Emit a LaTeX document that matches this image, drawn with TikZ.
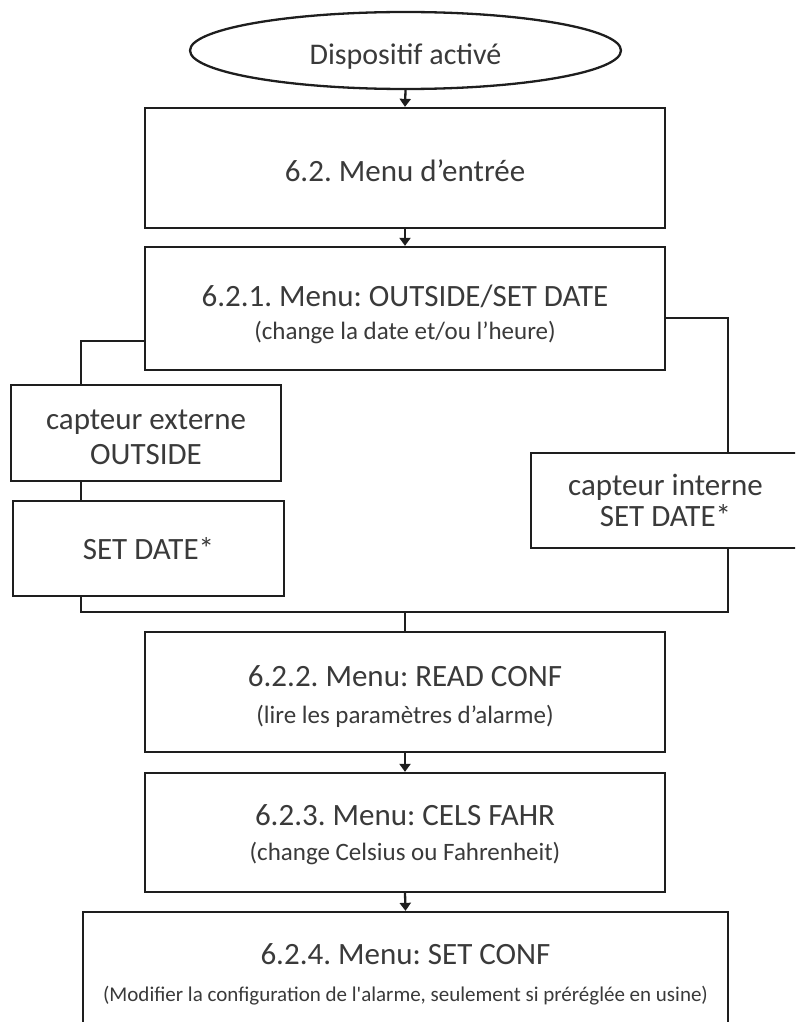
\documentclass[tikz,border=0pt]{standalone}
\usepackage{fontspec}
\setmainfont{Carlito}
\usetikzlibrary{shapes.geometric,arrows.meta,calc}

% font sizes used in the flow chart
\newcommand\ttlfont{\fontsize{31}{37}\selectfont\frenchspacing}
\newcommand\subfont{\fontsize{25}{30}\selectfont}
\newcommand\notefont{\fontsize{21}{26}\selectfont}
\newcommand\ovalfont{\fontsize{30}{36}\selectfont}
% invisible strut that pushes a node's text a little lower
\newcommand\lift[1]{\rule{0pt}{#1}}

\definecolor{linec}{HTML}{1E1E1E}
\definecolor{txt}{HTML}{3A3A3A}

\begin{document}
\begin{tikzpicture}[x=1pt,y=-1pt,
  box/.style={draw=linec, line width=2.3pt, fill=white, text=txt,
    align=center, inner sep=0pt, font=\ttlfont},
  oval/.style={ellipse, draw=linec, line width=2.3pt, text=txt,
    inner sep=0pt, font=\ovalfont},
  link/.style={draw=linec, line width=2.3pt},
  arr/.style={link, -{Triangle[width=11pt,length=8pt]}}]

\clip (0,0) rectangle (795,1022);

% start of the flow
\node[oval, minimum width=431pt, minimum height=77pt] (start) at (405.5,50.5) {\lift{33pt}Dispositif activé};

% main menu boxes
\node[box, minimum width=520pt, minimum height=120pt] (menu) at (405,168) {\lift{28pt}6.2. Menu d’entrée};
\node[box, minimum width=520pt, minimum height=123pt] (outside) at (405,308.5)
  {\lift{33pt}6.2.1. Menu: OUTSIDE/SET DATE\\[-4pt]{\subfont (change la date et/ou l’heure)}};

% sensor branches
\node[box, minimum width=270pt, minimum height=96pt] (ext) at (146,433) {\lift{28pt}capteur externe\\[-2pt]OUTSIDE};
\node[box, minimum width=271pt, minimum height=95pt] (setd) at (148.5,548.5) {SET DATE*};
\node[box, minimum width=269pt, minimum height=95pt] (int) at (665.5,500.5) {capteur interne\\[-6pt]SET DATE*};

\node[box, minimum width=520pt, minimum height=120pt] (read) at (405,692)
  {\lift{30pt}6.2.2. Menu: READ CONF\\[0pt]{\subfont (lire les paramètres d’alarme)}};
\node[box, minimum width=520pt, minimum height=119pt] (cels) at (405,832.5)
  {\lift{26pt}6.2.3. Menu: CELS FAHR\\[-2pt]{\subfont (change Celsius ou Fahrenheit)}};
\node[box, minimum width=645pt, minimum height=124pt] (conf) at (405.5,974)
  {6.2.4. Menu: SET CONF\\[0pt]{\notefont (Modifier la configuration de l\textquotesingle alarme, seulement si préréglée en usine)}};

% connector rails
\coordinate (lx) at (81,0);
\coordinate (rx) at (728,0);
\coordinate (join) at (405,612);

\draw[arr] (start.south) -- (menu.north);
\draw[arr] (menu.south) -- (outside.north);
\draw[link] ([yshift=-32.5pt]outside.west) -| (ext.north -| lx);
\draw[link] ([yshift=-9.5pt]outside.east) -| (int.north -| rx);
\draw[link] (ext.south -| lx) -- (setd.north -| lx);
\draw[link] (setd.south -| lx) |- (join) -| (int.south -| rx);
\draw[link] (join) -- (read.north);
\draw[arr] (read.south) -- (cels.north);
\draw[arr] (cels.south) -- (conf.north);
\end{tikzpicture}
\end{document}
